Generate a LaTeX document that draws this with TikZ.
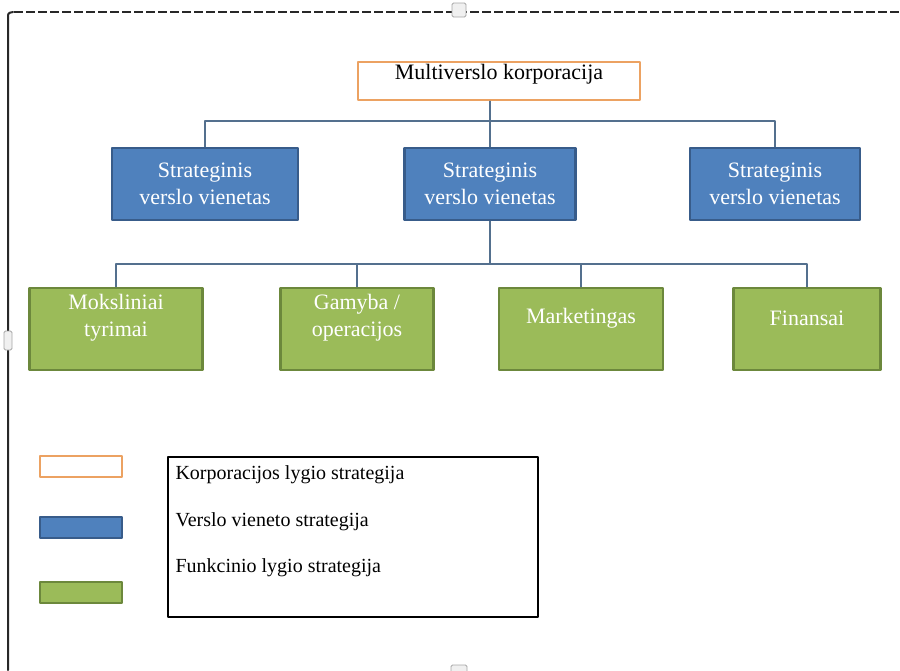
\documentclass[tikz,border=0pt]{standalone}
\usepackage{fontspec}
\setmainfont{Liberation Serif}
\definecolor{corpline}{RGB}{236,162,98}
\definecolor{unitfill}{RGB}{79,129,189}
\definecolor{unitline}{RGB}{56,92,138}
\definecolor{funcfill}{RGB}{155,187,89}
\definecolor{funcline}{RGB}{108,136,60}
\definecolor{linkcol}{RGB}{84,112,142}
\definecolor{framecol}{RGB}{40,40,40}
\begin{document}
\begin{tikzpicture}[x=1pt,y=-1pt,line cap=round,line join=round,font=\fontsize{22}{27}\selectfont,
 corp/.style={draw=corpline,line width=2.5pt,fill=white,minimum width=282pt,minimum height=38pt},
 unit/.style={draw=unitline,line width=2.5pt,fill=unitfill,text=white,align=center,minimum height=72pt},
 func/.style={draw=funcline,line width=2.5pt,fill=funcfill,minimum height=82pt},
 functext/.style={text=white,align=center,yshift=11pt},
 keybox/.style={line width=2.5pt,minimum width=82pt,minimum height=21pt},
 keytext/.style={anchor=west,font=\fontsize{20}{24}\selectfont},
 link/.style={draw=linkcol,line width=1.3pt},
 handle/.style={draw=gray!70,fill=gray!12,line width=0.8pt,rounded corners=1.5pt}]
 \useasboundingbox (0,0) rectangle (900,670);
 % frame
 \draw[framecol,line width=2pt,dash pattern=on 9pt off 3pt,line cap=butt](14,12)--(900,12);
 \draw[framecol,line width=2pt](8,670)--(8,18)..controls(8,13)..(13,12);
 \draw[handle](452,3)rectangle(466,17);
 \draw[handle](4,331)rectangle(12,350);
 \draw[handle](451,665)rectangle(467,674);
 % levels
 \node[corp,label={[yshift=7pt]center:Multiverslo korporacija}](corp)at(499,81){};
 \foreach \n/\x/\w in{1/205/186pt,2/490/171pt,3/775/170pt}
 \node[unit,minimum width=\w](sbu\n)at(\x,184){Strateginis\\verslo vienetas};
 \foreach \n/\x/\w/\t in{1/116/173pt/{Moksliniai\\tyrimai},2/357/153pt/{Gamyba /\\operacijos},3/581/164pt/Marketingas,4/807/147pt/Finansai}
 \node[func,minimum width=\w,label={[functext]center:\t}](f\n)at(\x,329){};
 \coordinate(bar1)at(0,121);
 \coordinate(bar2)at(0,264);
 \draw[link](sbu2.north)--(corp.south-|sbu2.north);
 \draw[link](sbu1.north)|-(bar1-|sbu3.north)--(sbu3.north);
 \draw[link](sbu2.south)--(sbu2.south|-bar2);
 \draw[link](f1.north)|-(bar2-|f4.north)--(f4.north);
 \foreach \n in{2,3}\draw[link](f\n.north)--(f\n.north|-bar2);
 % legend
 \node[keybox,draw=corpline,fill=white](kcorp)at(81,466.5){};
 \node[keybox,draw=unitline,fill=unitfill](kunit)at(81,527.5){};
 \node[keybox,draw=funcline,fill=funcfill](kfunc)at(81,592.5){};
 \node[draw=black,line width=1.3pt,minimum width=370pt,minimum height=160pt](legend)at(353,537){};
 \node[keytext](tcorp)at(172,475){Korporacijos lygio strategija};
 \node[keytext](tunit)at(172,522){Verslo vieneto strategija};
 \node[keytext](tfunc)at(172,568){Funkcinio lygio strategija};
\end{tikzpicture}
\end{document}
